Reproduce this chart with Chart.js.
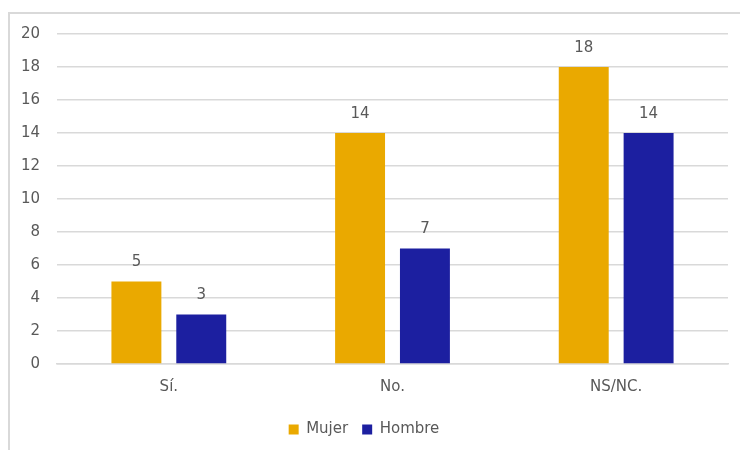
<!DOCTYPE html>
<html>
<head>
<meta charset="utf-8">
<script src="https://cdn.jsdelivr.net/npm/chart.js@4"></script>
<style>
  html, body { margin: 0; padding: 0; background: #fff; overflow: hidden; }
  #frame {
    position: absolute; left: 8px; top: 12px; width: 760px; height: 460px;
    border-top: 2px solid #d9d9d9; border-left: 2px solid #d9d9d9;
  }
  #wrap { position: absolute; left: 0; top: 0; width: 740px; height: 450px; }
</style>
</head>
<body>
<div id="frame"></div>
<div id="wrap"><canvas id="chart"></canvas></div>
<script>
const categorias = ['Sí.', 'No.', 'NS/NC.'];
const mujer = [5, 14, 18];
const hombre = [3, 7, 14];
const ticksY = [0, 2, 4, 6, 8, 10, 12, 14, 16, 18, 20];

const gris = '#595959';
const fuente = "'Century Gothic', 'DejaVu Sans', sans-serif";

// pinta el valor encima de cada barra
const etiquetas = {
  id: 'etiquetas',
  afterDatasetsDraw(chart) {
    const c = chart.ctx;
    c.save();
    c.fillStyle = gris;
    c.font = '15px ' + fuente;
    c.textAlign = 'center';
    c.textBaseline = 'middle';
    chart.data.datasets.forEach((ds, i) => {
      chart.getDatasetMeta(i).data.forEach((bar, j) => {
        c.fillText(ds.data[j], bar.x, bar.y - 19);
      });
    });
    c.restore();
  }
};

const ctx = document.getElementById('chart');
new Chart(ctx, {
  type: 'bar',
  data: {
    labels: categorias,
    datasets: [{
      label: 'Mujer',
      data: mujer,
      backgroundColor: '#EAA900',
      categoryPercentage: 0.58,
      barPercentage: 0.77
    }, {
      label: 'Hombre',
      data: hombre,
      backgroundColor: '#1C1FA0',
      categoryPercentage: 0.58,
      barPercentage: 0.77
    }]
  },
  options: {
    responsive: true,
    maintainAspectRatio: false,
    animation: false,
    layout: { padding: { top: 34, right: 12, left: 0, bottom: 3 } },
    scales: {
      y: {
        min: 0,
        max: 20,
        afterBuildTicks(scale) {
          scale.ticks = ticksY.map(v => ({ value: v }));
        },
        afterFit(scale) { scale.width = 57; },
        ticks: { color: gris, font: { size: 15, family: fuente }, padding: 17 },
        grid: { color: '#d9d9d9', lineWidth: 1.5, drawTicks: false },
        border: { display: false }
      },
      x: {
        afterFit(scale) { scale.height += 6; },
        ticks: { color: gris, font: { size: 15, family: fuente }, padding: 6 },
        grid: { display: false },
        border: { color: '#d9d9d9', width: 1.5 }
      }
    },
    plugins: {
      legend: {
        position: 'bottom',
        labels: {
          color: gris,
          font: { size: 15, family: fuente },
          boxWidth: 10,
          boxHeight: 10,
          padding: 14
        }
      },
      tooltip: { enabled: false }
    }
  },
  plugins: [etiquetas]
});
</script>
</body>
</html>
